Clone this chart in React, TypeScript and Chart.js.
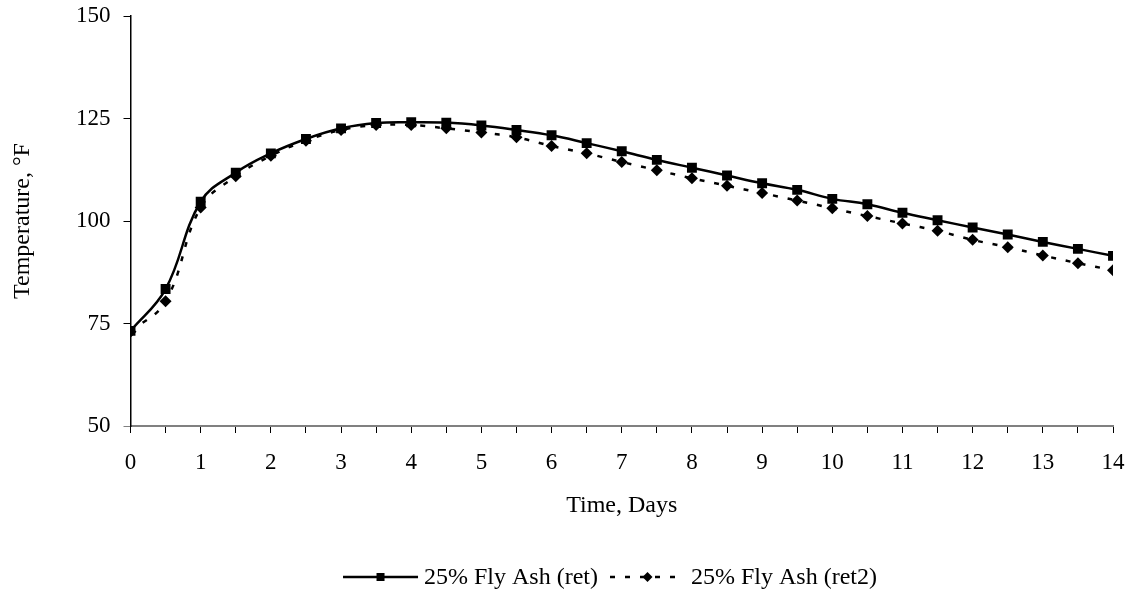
import { useEffect, useRef } from 'react';
import { Chart, registerables } from 'chart.js';

Chart.register(...registerables);

const days = [0, 0.5, 1, 1.5, 2, 2.5, 3, 3.5, 4, 4.5, 5, 5.5, 6, 6.5, 7, 7.5, 8, 8.5, 9, 9.5, 10, 10.5, 11, 11.5, 12, 12.5, 13, 13.5, 14];
const flyAshRet = [73.2, 83.4, 104.7, 111.8, 116.5, 120.0, 122.6, 123.9, 124.1, 124.0, 123.3, 122.2, 120.9, 119.0, 117.0, 114.9, 113.0, 111.1, 109.2, 107.6, 105.4, 104.1, 102.0, 100.2, 98.4, 96.7, 94.9, 93.2, 91.5];
const flyAshRet2 = [73.0, 80.4, 103.3, 110.9, 115.9, 119.6, 122.2, 123.4, 123.4, 122.6, 121.6, 120.4, 118.3, 116.5, 114.4, 112.4, 110.4, 108.6, 106.8, 105.0, 103.1, 101.2, 99.4, 97.6, 95.4, 93.6, 91.6, 89.7, 88.0];
const seriesLabels = ['25% Fly Ash (ret)', '25% Fly Ash (ret2)'];
const xTitle = 'Time, Days';
const yTitle = 'Temperature, °F';
const yMin = 50;
const yMax = 150;
const yStep = 25;
const xMin = 0;
const xMax = 14;
const xStep = 0.5;

const FONT = '"Liberation Serif", "Times New Roman", serif';

const legendPlugin = {
  id: 'excelLegend',
  afterDraw(chart: any) {
    const ctx = chart.ctx as CanvasRenderingContext2D;
    ctx.save();
    ctx.font = `24px ${FONT}`;
    ctx.textBaseline = 'middle';
    ctx.fillStyle = '#000';
    const y = 577;
    const lineLen = 75;
    const gapText = 6;
    const gapItem = 12;
    const w1 = ctx.measureText(seriesLabels[0]).width;
    const w2 = ctx.measureText(seriesLabels[1]).width;
    const total = lineLen + gapText + w1 + gapItem + lineLen + gapText + w2;
    let x = 610 - total / 2;
    ctx.strokeStyle = '#000';
    ctx.lineWidth = 2.5;
    ctx.setLineDash([]);
    ctx.beginPath();
    ctx.moveTo(x, y);
    ctx.lineTo(x + lineLen, y);
    ctx.stroke();
    ctx.fillRect(x + lineLen / 2 - 4, y - 4, 8, 8);
    x += lineLen + gapText;
    ctx.fillText(seriesLabels[0], x, y + 1);
    x += w1 + gapItem;
    ctx.setLineDash([5, 10]);
    ctx.beginPath();
    ctx.moveTo(x, y);
    ctx.lineTo(x + lineLen, y);
    ctx.stroke();
    ctx.setLineDash([]);
    const cx = x + lineLen / 2;
    ctx.beginPath();
    ctx.moveTo(cx, y - 5);
    ctx.lineTo(cx + 5, y);
    ctx.lineTo(cx, y + 5);
    ctx.lineTo(cx - 5, y);
    ctx.closePath();
    ctx.fill();
    x += lineLen + gapText;
    ctx.fillText(seriesLabels[1], x, y + 1);
    ctx.restore();
  },
};

export default function App() {
  const canvasRef = useRef<HTMLCanvasElement | null>(null);

  useEffect(() => {
    if (!canvasRef.current) return;
    const chart = new Chart(canvasRef.current, {
      type: 'line',
      data: {
        datasets: [
          {
            label: seriesLabels[0],
            data: days.map((d, i) => ({ x: d, y: flyAshRet[i] })),
            borderColor: '#000',
            backgroundColor: '#000',
            borderWidth: 2.5,
            pointStyle: 'rect',
            pointRadius: 7,
            pointBorderWidth: 0,
            tension: 0.4,
            fill: false,
          },
          {
            label: seriesLabels[1],
            data: days.map((d, i) => ({ x: d, y: flyAshRet2[i] })),
            borderColor: '#000',
            backgroundColor: '#000',
            borderWidth: 2.5,
            borderDash: [5, 10],
            pointStyle: 'rectRot',
            pointRadius: 6,
            pointBorderWidth: 0,
            tension: 0.4,
            fill: false,
          },
        ],
      },
      options: {
        responsive: true,
        maintainAspectRatio: false,
        animation: false,
        layout: { padding: { top: 16, right: 24, left: 0, bottom: 0 } },
        plugins: {
          legend: { display: false },
          tooltip: { enabled: false },
        },
        scales: {
          x: {
            type: 'linear',
            min: xMin,
            max: xMax,
            afterFit: (scale: any) => {
              scale.height = 170;
              scale.paddingLeft = 0;
              scale.paddingRight = 0;
            },
            afterBuildTicks: (scale: any) => {
              const t = [];
              for (let v = xMin; v <= xMax + 1e-9; v += xStep) t.push({ value: v });
              scale.ticks = t;
            },
            ticks: {
              autoSkip: false,
              maxRotation: 0,
              padding: 16,
              color: '#000',
              font: { family: FONT, size: 23 },
              callback: (v: any) => (Number.isInteger(v) ? String(v) : ''),
            },
            grid: {
              drawOnChartArea: false,
              drawTicks: true,
              tickLength: 7,
              tickColor: '#000',
            },
            border: { color: '#808080', width: 2 },
            title: {
              display: true,
              text: xTitle,
              color: '#000',
              font: { family: FONT, size: 24 },
              padding: { top: 0, bottom: 76 },
            },
          },
          y: {
            min: yMin,
            max: yMax,
            afterFit: (scale: any) => {
              scale.width = 130.5;
              scale.paddingTop = 0;
              scale.paddingBottom = 0;
            },
            afterBuildTicks: (scale: any) => {
              const t = [];
              for (let v = yMin; v <= yMax; v += yStep) t.push({ value: v });
              scale.ticks = t;
            },
            ticks: {
              padding: 13,
              color: '#000',
              font: { family: FONT, size: 23 },
            },
            grid: {
              drawOnChartArea: false,
              drawTicks: true,
              tickLength: 7,
              tickColor: (c: any) => (c.tick && c.tick.value === yMin ? '#808080' : '#000'),
            },
            border: { color: '#000', width: 1.5 },
            title: {
              display: true,
              text: yTitle,
              color: '#000',
              font: { family: FONT, size: 24 },
              padding: { top: 8, bottom: 0 },
            },
          },
        },
      },
      plugins: [legendPlugin],
    });
    return () => chart.destroy();
  }, []);

  return (
    <div style={{ position: 'fixed', left: 0, top: 0, width: 1137, height: 596, background: '#fff' }}>
      <canvas ref={canvasRef} />
    </div>
  );
}
